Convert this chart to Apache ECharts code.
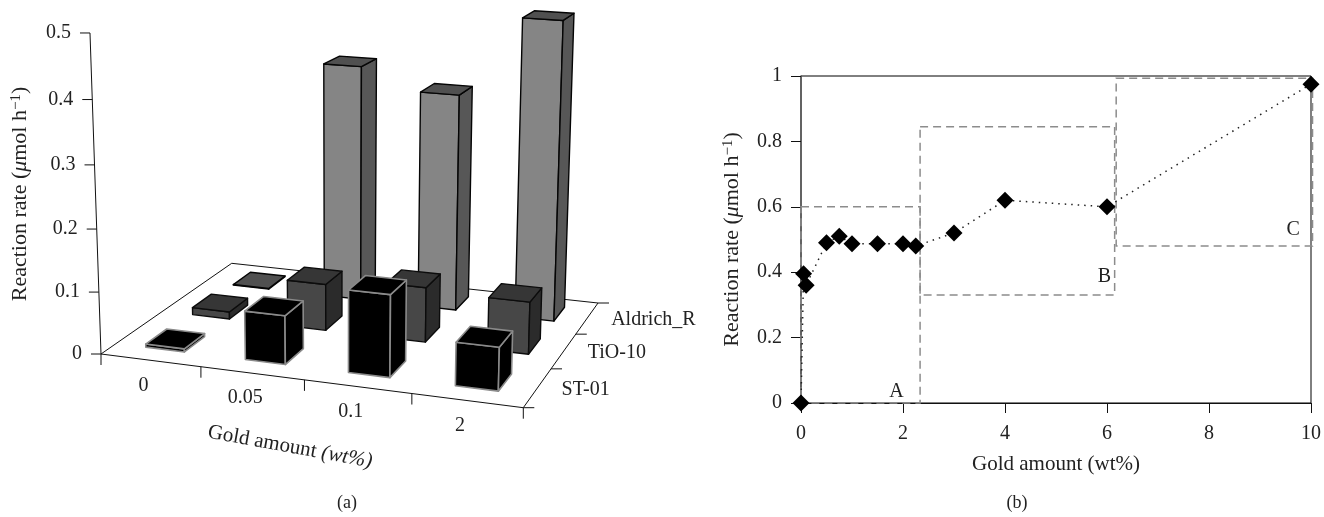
<!DOCTYPE html>
<html><head><meta charset="utf-8">
<style>html,body{margin:0;padding:0;background:#fff}#c{width:1324px;height:517px}</style>
<script src="https://cdn.jsdelivr.net/npm/echarts@6/dist/echarts.min.js"></script>
</head><body><div id="c"></div>
<script>
// ---- panel (a) data
const goldCats = ['0','0.05','0.1','2'];
const catalysts = ['ST-01','TiO-10','Aldrich_R'];
const st01 = [0.005,0.078,0.13,0.068];
const tio10 = [0.012,0.077,0.09,0.085];
const aldrich = [0.001,0.40,0.365,0.497];
const rateTicks3d = [0,0.1,0.2,0.3,0.4,0.5];
// ---- panel (b) data
const goldX = [0,0.05,0.1,0.5,0.75,1,1.5,2,2.25,3,4,6,10];
const rateY = [0,0.395,0.36,0.49,0.51,0.487,0.487,0.487,0.48,0.52,0.62,0.6,0.975];
const regionNames = ['A','B','C'];
const regionX0 = [0,2.335,6.18];
const regionX1 = [2.335,6.15,10.03];
const regionY0 = [0,0.33,0.48];
const regionY1 = [0.6,0.845,0.993];
const regionLabelX = [1.87,5.95,9.65];
const regionLabelY = [0.035,0.385,0.53];

const FONT = '"Liberation Serif","Times New Roman",serif';
const FS = 20;
const NS = 21;
const YS = 22;
const TXT = '#222';

// ---- perspective projection of panel (a)
const Q = {x0:101,y0:354,x1:523.3,y1:407.7,x2:598,y2:303,x3:231.7,y3:263.3, vpx:339, vpy:7296, c3:-0.0442};
const H = (function(q){
  const dx1=q.x1-q.x2,dx2=q.x3-q.x2,dx3=q.x0-q.x1+q.x2-q.x3;
  const dy1=q.y1-q.y2,dy2=q.y3-q.y2,dy3=q.y0-q.y1+q.y2-q.y3;
  const den=dx1*dy2-dx2*dy1;
  const g=(dx3*dy2-dx2*dy3)/den, h=(dx1*dy3-dx3*dy1)/den;
  return {a:q.x1-q.x0+g*q.x1,b:q.x3-q.x0+h*q.x3,c:q.x0,d:q.y1-q.y0+g*q.y1,e:q.y3-q.y0+h*q.y3,f:q.y0,g,h};
})(Q);
function P(u,v,t){
  const w=H.g*u+H.h*v+1+Q.c3*t;
  return [(H.a*u+H.b*v+H.c+Q.vpx*Q.c3*t)/w,(H.d*u+H.e*v+H.f+Q.vpy*Q.c3*t)/w];
}
function line(a,b,w,c){return {type:'line',shape:{x1:a[0],y1:a[1],x2:b[0],y2:b[1]},style:{stroke:c||'#111',lineWidth:w||1}};}
function text(x,y,s,al,extra){return Object.assign({type:'text',x:x,y:y,style:{text:s,font:FS+'px '+FONT,fill:TXT,textAlign:al||'center',textVerticalAlign:'middle'}},extra||{});}

const A_LEFT=101,A_WIDTH=422,A_TOP=33,A_BOTTOM=354;
const HALF_U=0.049, HALF_V=0.075, U_SHIFTS=[0,0.004,0.004], V_SHIFT=0.01;
const rowStyles=[
 {front:'#000',side:'#000',top:'#000',stroke:'#8a8a8a',w:1.6},
 {front:'#474747',side:'#2b2b2b',top:'#363636',stroke:'#0c0c0c',w:1.4},
 {front:'#858585',side:'#575757',top:'#505050',stroke:'#050505',w:1.4}
];
function barItem(row){
  return function(params,api){
    const cx=api.coord([api.value(0),0]);
    const vy=api.coord([0,api.value(1)])[1];
    const y0=api.coord([0,0])[1], yT=api.coord([0,0.5])[1];
    const t=(y0-vy)/(y0-yT);
    const u=(cx[0]-A_LEFT)/A_WIDTH+U_SHIFTS[row], v=(row+0.5)/3+V_SHIFT;
    const u0=u-HALF_U,u1=u+HALF_U,v0=v-HALF_V,v1=v+HALF_V;
    const s=rowStyles[row];
    const poly=(pts,f)=>({type:'polygon',shape:{points:pts},style:{fill:f,stroke:s.stroke,lineWidth:s.w,lineJoin:'round'}});
    return {type:'group',children:[
      poly([P(u0,v0,0),P(u1,v0,0),P(u1,v0,t),P(u0,v0,t)],s.front),
      poly([P(u1,v0,0),P(u1,v1,0),P(u1,v1,t),P(u1,v0,t)],s.side),
      poly([P(u0,v0,t),P(u1,v0,t),P(u1,v1,t),P(u0,v1,t)],s.top)
    ]};
  };
}
const richX={
  r:{fontFamily:FONT,fontSize:NS,fill:TXT,color:TXT},
  i:{fontFamily:FONT,fontStyle:'italic',fontSize:NS,fill:TXT,color:TXT}
};
const richY={
  r:{fontFamily:FONT,fontSize:YS,fill:TXT,color:TXT},
  i:{fontFamily:FONT,fontStyle:'italic',fontSize:YS,fill:TXT,color:TXT},
  s:{fontFamily:FONT,fontSize:15,fill:TXT,color:TXT,verticalAlign:'top'}
};
const yTitle='{r|Reaction rate (}{i|μ}{r|mol h}{s|−1}{r|)}';
function frameItem(params,api){
  const ch=[];
  const c=[P(0,0,0),P(1,0,0),P(1,1,0),P(0,1,0)];
  for(let i=0;i<4;i++)ch.push(line(c[i],c[(i+1)%4]));
  const y0=api.coord([0,0])[1], yT=api.coord([0,0.5])[1];
  ch.push(line(P(0,0,0),P(0,0,1)));
  rateTicks3d.forEach(val=>{
    const p=P(0,0,(y0-api.coord([0,val])[1])/(y0-yT));
    ch.push(line([p[0]-10,p[1]],p));
    ch.push(text(p[0]-19,p[1],String(val),'right'));
  });
  const n=goldCats.length;
  for(let i=0;i<=n;i++){const p=P(i/n,0,0);ch.push(line(p,[p[0],p[1]+11]));}
  goldCats.forEach((g,i)=>{
    const p=P((api.coord([i,0])[0]-A_LEFT)/A_WIDTH,0,0);
    ch.push(text(p[0]-7,p[1]+25,g,'center'));
  });
  const m=catalysts.length;
  for(let j=0;j<=m;j++){const p=P(1,j/m,0);ch.push(line(p,[p[0]+11,p[1]]));}
  catalysts.forEach((g,j)=>{
    const p=P(1,(j+0.5)/m,0);
    ch.push(text(p[0]+24,p[1]+2,g,'left'));
  });
  ch.push({type:'text',x:290,y:447,rotation:-0.18,style:{
    text:'{r|Gold amount }{i|(wt%)}',textAlign:'center',textVerticalAlign:'middle',rich:richX}});
  ch.push({type:'text',x:20,y:194,rotation:Math.PI/2,style:{
    text:yTitle,textAlign:'center',textVerticalAlign:'middle',rich:richY}});
  return {type:'group',children:ch};
}
function regionItem(params,api){
  const i=api.value(0);
  const a=api.coord([regionX0[i],regionY0[i]]), b=api.coord([regionX1[i],regionY1[i]]);
  const l=api.coord([regionLabelX[i],regionLabelY[i]]);
  return {type:'group',children:[
    {type:'rect',shape:{x:a[0],y:b[1],width:b[0]-a[0],height:a[1]-b[1]},
     style:{fill:'none',stroke:'#8c8c8c',lineWidth:1.5,lineDash:[8,5]}},
    text(l[0],l[1],regionNames[i],'center')
  ]};
}
const chart=echarts.init(document.getElementById('c'),null,{renderer:'canvas'});
const barSeries=[2,1,0].map(row=>({
  type:'custom',name:catalysts[row],xAxisIndex:0,yAxisIndex:0,
  data:[st01,tio10,aldrich][row].map((v,i)=>[i,v]),
  renderItem:barItem(row),encode:{x:0,y:1},z:3
}));
chart.setOption({
  animation:false,
  backgroundColor:'#fff',
  textStyle:{fontFamily:FONT},
  title:[
    {text:'(a)',left:347,top:503,textAlign:'center',textVerticalAlign:'middle',textStyle:{fontFamily:FONT,fontSize:18,fontWeight:'normal',color:TXT},padding:0},
    {text:'(b)',left:1017,top:503,textAlign:'center',textVerticalAlign:'middle',textStyle:{fontFamily:FONT,fontSize:18,fontWeight:'normal',color:TXT},padding:0}
  ],
  grid:[
    {left:A_LEFT,top:A_TOP,width:A_WIDTH,height:A_BOTTOM-A_TOP},
    {left:801,top:76,width:512.5,height:327,show:true,borderColor:'#000',borderWidth:1,backgroundColor:'transparent'}
  ],
  xAxis:[
    {gridIndex:0,type:'category',data:goldCats,show:false},
    {gridIndex:1,type:'value',min:0,max:10,interval:2,
     name:'Gold amount (wt%)',nameLocation:'middle',nameGap:51,
     nameTextStyle:{fontFamily:FONT,fontSize:NS,color:TXT},
     axisLine:{onZero:false,lineStyle:{color:'#111',width:1}},axisTick:{show:true,length:10,lineStyle:{color:'#111'}},
     axisLabel:{fontFamily:FONT,fontSize:FS,color:TXT,margin:21},splitLine:{show:false}}
  ],
  yAxis:[
    {gridIndex:0,type:'value',min:0,max:0.5,show:false},
    {gridIndex:1,type:'value',min:0,max:1,interval:0.2,
     name:yTitle,nameLocation:'middle',nameGap:58,nameRotate:90,
     nameTextStyle:{rich:richY},
     axisLine:{show:true,onZero:false,lineStyle:{color:'#5a5a5a',width:1.5}},axisTick:{show:true,length:10,lineStyle:{color:'#111'}},
     axisLabel:{fontFamily:FONT,fontSize:FS,color:TXT,margin:19,formatter:v=>String(v)},splitLine:{show:false}}
  ],
  series:[
    {type:'custom',name:'axes (a)',xAxisIndex:0,yAxisIndex:0,data:[[0,0]],renderItem:frameItem,z:2,silent:true},
    ...barSeries,
    {type:'custom',name:'regions',xAxisIndex:1,yAxisIndex:1,data:regionNames.map((n,i)=>[i]),renderItem:regionItem,encode:{x:-1,y:-1},z:3,silent:true},
    {type:'line',name:'rate',xAxisIndex:1,yAxisIndex:1,data:goldX.map((x,i)=>[x,rateY[i]]),
     symbol:'diamond',symbolSize:17,itemStyle:{color:'#000'},clip:false,
     lineStyle:{color:'#222',width:1.5,type:[1.5,5]},z:4}
  ]
});
</script></body></html>
